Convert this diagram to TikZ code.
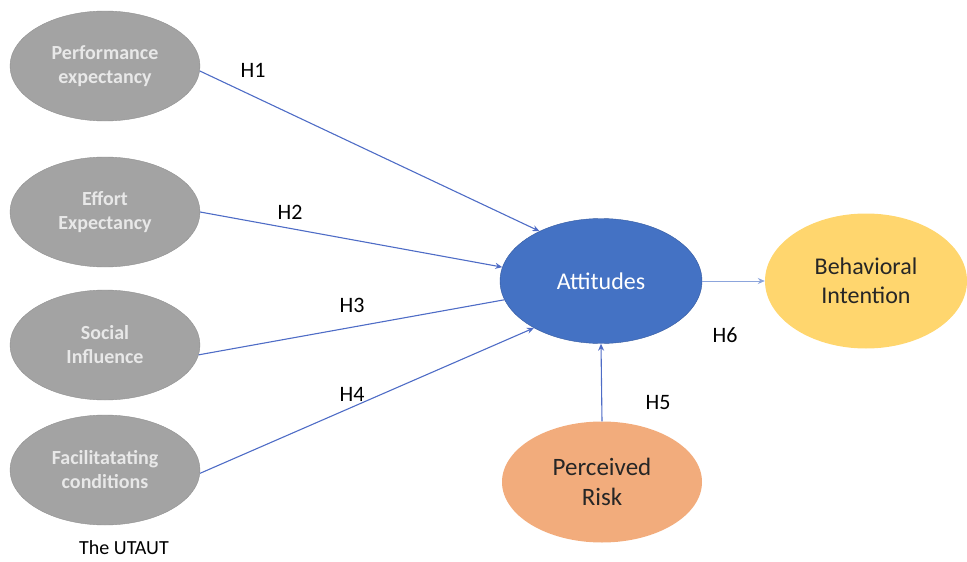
\documentclass[tikz,border=0pt]{standalone}
\usepackage{fontspec}
\setmainfont{Carlito}
\usetikzlibrary{shapes.geometric,arrows.meta}
\definecolor{utautGray}{RGB}{163,163,163}
\definecolor{utautGrayDark}{RGB}{145,145,145}
\definecolor{utautText}{RGB}{232,232,232}
\definecolor{attBlue}{RGB}{68,114,196}
\definecolor{attBlueDark}{RGB}{52,90,160}
\definecolor{intentYellow}{RGB}{255,214,110}
\definecolor{riskOrange}{RGB}{242,172,124}
\definecolor{pathBlue}{RGB}{78,108,198}
\definecolor{pathLight}{RGB}{140,165,220}

\begin{document}
\begin{tikzpicture}[x=1pt, y=-1pt]
            \tikzstyle{construct} = [ellipse, draw=utautGrayDark, fill=utautGray, minimum width=190pt, minimum height=110pt, inner sep=0pt, align=center, text=utautText, font=\fontsize{20}{24}\selectfont\bfseries]
            \tikzstyle{outcome} = [ellipse, minimum width=202pt, inner sep=0pt, align=center, font=\fontsize{24}{29}\selectfont]
            \tikzstyle{hyp} = [font=\fontsize{22}{26}\selectfont]
            \tikzstyle{arrow} = [-{Stealth[length=7pt,width=6pt]}, line width=1.1pt, pathBlue]
            \useasboundingbox (0,0) rectangle (967,562);

            % UTAUT constructs
            \node[construct] (pe) at (105,66) {Performance\\expectancy};
            \node[construct] (ee) at (105,212) {Effort\\Expectancy};
            \node[construct] (si) at (105,345) {Social\\Influence};
            \node[construct] (fc) at (105,470) {Facilitatating\\conditions};
            \node[font=\fontsize{20}{24}\selectfont] (utaut) at (124,548) {The UTAUT};

            % Attitudes, intention and risk
            \node[outcome, minimum height=125pt, draw=attBlueDark, fill=attBlue, text=white] (att) at (601,281) {Attitudes};
            \node[outcome, minimum height=135pt, fill=intentYellow, text=black!85] (bi) at (866,281) {Behavioral\\Intention};
            \node[outcome, minimum width=200pt, minimum height=121pt, fill=riskOrange, text=black!85, font=\fontsize{25}{30}\selectfont] (pr) at (602,482) {Perceived\\Risk};

            % Hypotheses
            \draw[arrow] (pe.-3) -- (att.141);
            \draw[arrow] (ee.east) -- (att.172);
            \draw[line width=1.1pt, pathBlue] (si.-6) -- (att.191);
            \draw[arrow] (fc.-2) -- (att.215);
            \draw[arrow] (pr.north) -- (att.south);
            \draw[arrow, pathLight, line width=0.9pt] (att.east) -- (bi.west);

            \node[hyp] (h1) at (253,70) {H1};
            \node[hyp] (h2) at (290,212) {H2};
            \node[hyp] (h3) at (352,305) {H3};
            \node[hyp] (h4) at (352,394) {H4};
            \node[hyp] (h5) at (658,403) {H5};
            \node[hyp] (h6) at (725,335) {H6};
        \end{tikzpicture}
\end{document}
